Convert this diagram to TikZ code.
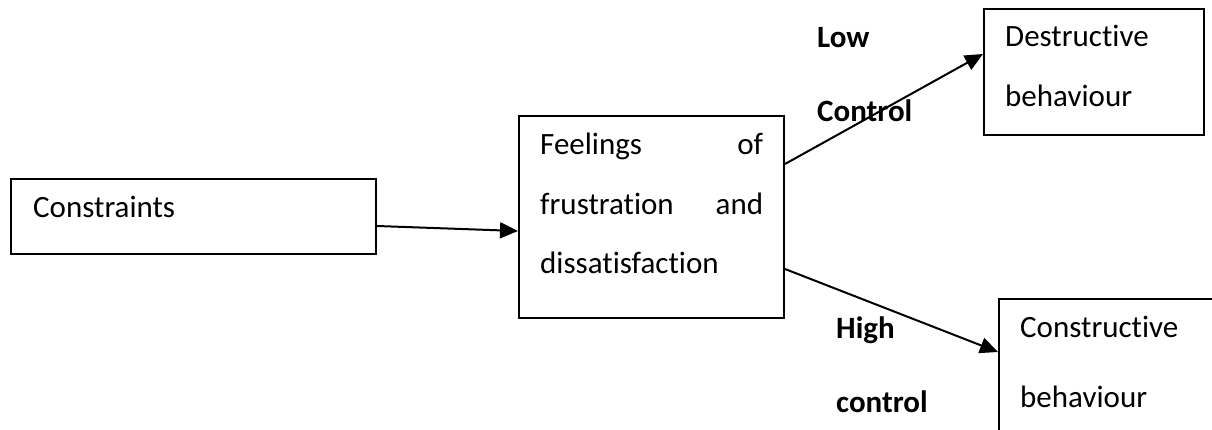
\documentclass[tikz,border=0pt]{standalone}
\usepackage{fontspec}
\setmainfont{Carlito}[RawFeature={-liga}]
\usetikzlibrary{arrows.meta,calc}
\begin{document}
\begin{tikzpicture}[x=1pt,y=-1pt,
  box/.style={draw,line width=2pt,inner sep=0pt,anchor=north west},
  txt/.style={inner sep=0pt,font=\fontsize{31}{37}\selectfont},
  lbl/.style={txt,font=\fontsize{31}{37}\selectfont\bfseries},
  conn/.style={line width=2pt,-{Triangle[length=18pt,width=16pt]}}]
\useasboundingbox (0,0) rectangle (1212,430);
\clip (0,0) rectangle (1212,430);
\fill[white] (0,0) rectangle (1212,430);

% boxes
\node[box,minimum width=365pt,minimum height=75pt] (cons) at (10,178) {};
\node[box,minimum width=265pt,minimum height=202pt] (feel) at (518,115) {};
\node[box,minimum width=220pt,minimum height=126pt] (dest) at (983,8) {};
\node[box,minimum width=240pt,minimum height=160pt] (constr) at (998,298) {};

% box texts
\node[txt,anchor=base west] (t1) at (33,218) {Constraints};
\node[txt,anchor=base west,text width=223pt] (f1) at (540,155) {Feelings\hfill of};
\node[txt,anchor=base west,text width=223pt] (f2) at (540,215) {frustration\hfill and};
\node[txt,anchor=base west] (f3) at (540,273) {dissatisfaction};
\node[txt,anchor=base west] (d1) at (1005,47) {Destructive};
\node[txt,anchor=base west] (d2) at (1005,107) {behaviour};
\node[txt,anchor=base west] (c1) at (1020,337) {Constructive};
\node[txt,anchor=base west] (c2) at (1020,407) {behaviour};

% connectors
\draw[conn] ([yshift=-9.5pt]cons.east) -- ([yshift=-14pt]feel.west);
\draw[conn] ([yshift=53pt]feel.east) -- ([yshift=18pt]dest.west);
\draw[conn] ([yshift=-52pt]feel.east) -- ([yshift=-54pt]constr.north west);

% branch labels
\node[lbl,anchor=base west] (lo1) at (817,48) {Low};
\node[lbl,anchor=base west] (lo2) at (817,122) {Control};
\node[lbl,anchor=base west] (hi1) at (836,338) {High};
\node[lbl,anchor=base west] (hi2) at (836,412) {control};
\end{tikzpicture}
\end{document}
